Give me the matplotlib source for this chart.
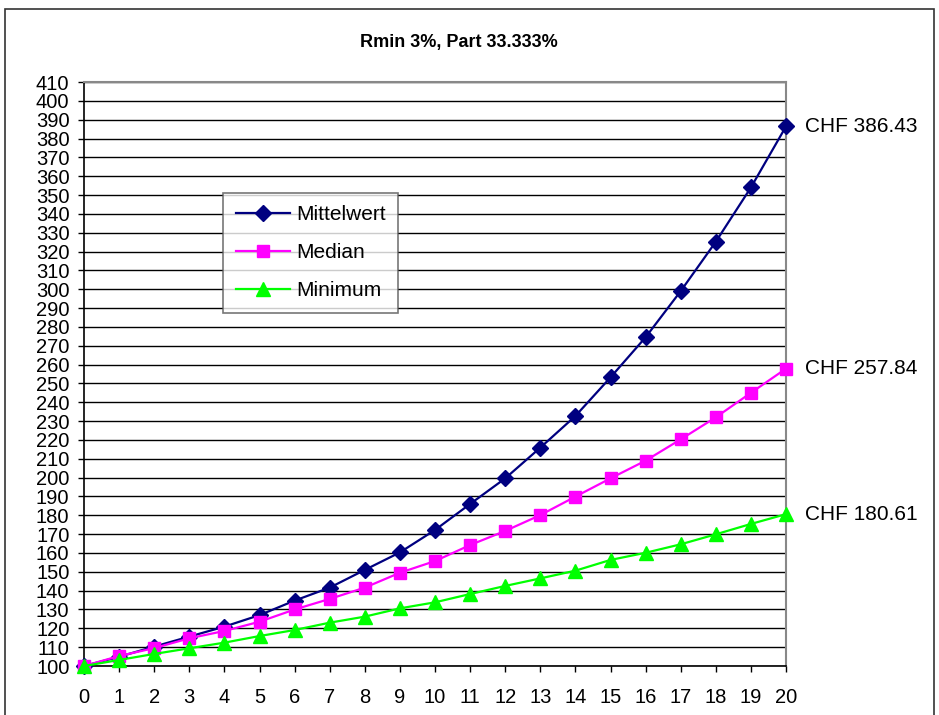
import numpy as np
import matplotlib
matplotlib.use("Agg")
import matplotlib.pyplot as plt
from matplotlib.patches import Rectangle

plt.rcParams['font.family'] = ['Liberation Sans', 'DejaVu Sans']

jahre = list(range(0, 21))
mittelwert = [100, 104.9, 110.3, 115.6, 120.9, 127.0, 134.7, 141.6, 151.0, 160.3,
              172.2, 186.0, 199.6, 215.9, 232.7, 253.2, 274.5, 299.0, 325.2, 354.0, 386.43]
median = [100, 105.3, 109.5, 114.7, 118.6, 123.5, 130.0, 135.6, 141.6, 149.5,
          155.7, 164.2, 171.7, 180.1, 189.9, 199.6, 209.0, 220.3, 232.0, 245.0, 257.84]
minimum = [100, 103.2, 106.4, 109.4, 112.4, 115.9, 119.1, 123.0, 126.2, 130.6,
           133.8, 138.2, 142.5, 146.5, 150.6, 156.3, 160.1, 164.6, 169.9, 175.4, 180.61]

serien = [
    ("Mittelwert", mittelwert, "#000080", "D", 8),
    ("Median", median, "#FF00FF", "s", 8.5),
    ("Minimum", minimum, "#00FF00", "^", 9.5),
]

fig = plt.figure(figsize=(9.39, 7.15), dpi=100)
ax = fig.add_axes([84/939, 1-666/715, (786-84)/939, (666-82)/715])

for name, werte, farbe, marker, ms in serien:
    ax.plot(jahre, werte, color=farbe, lw=1.6, marker=marker, ms=ms,
            markerfacecolor=farbe, markeredgecolor=farbe, label=name, clip_on=False, zorder=3)
    ax.annotate("CHF %.2f" % werte[-1], xy=(jahre[-1], werte[-1]), xytext=(13.5, 0),
                textcoords="offset points", va="center", ha="left", fontsize=15,
                annotation_clip=False)

ax.set_xlim(0, 20)
ax.set_ylim(100, 410)
ax.set_xticks(jahre)
ax.set_yticks(np.arange(100, 411, 10))
ax.tick_params(axis="both", labelsize=14.5, direction="out", length=4.5, width=1, color="black")
ax.tick_params(axis="x", pad=11)
ax.tick_params(axis="y", pad=6)
ax.yaxis.grid(True, color="black", lw=1)
ax.set_axisbelow(True)
for s in ["top", "right"]:
    ax.spines[s].set_color("#888888")
    ax.spines[s].set_linewidth(1.5)
for s in ["left", "bottom"]:
    ax.spines[s].set_color("black")
    ax.spines[s].set_linewidth(1.2)

fig.text(459/939, 1-43/715, "Rmin 3%, Part 33.333%", ha="center", va="center",
         fontsize=13, fontweight="bold")

leg = ax.legend(loc="upper left", bbox_to_anchor=((223-84)/702, (666-193)/584),
                fontsize=15, frameon=True, fancybox=False, borderpad=0.6,
                handlelength=2.6, handletextpad=0.3, labelspacing=0.9, borderaxespad=0)
leg.get_frame().set_edgecolor("#555555")
leg.get_frame().set_linewidth(1.2)

fig.patches.append(Rectangle((5/939, -0.05), (934-5)/939, 1.05-9/715,
                             transform=fig.transFigure, fill=False,
                             edgecolor="#333333", lw=1.2))

fig.savefig("out.png", dpi=100)
